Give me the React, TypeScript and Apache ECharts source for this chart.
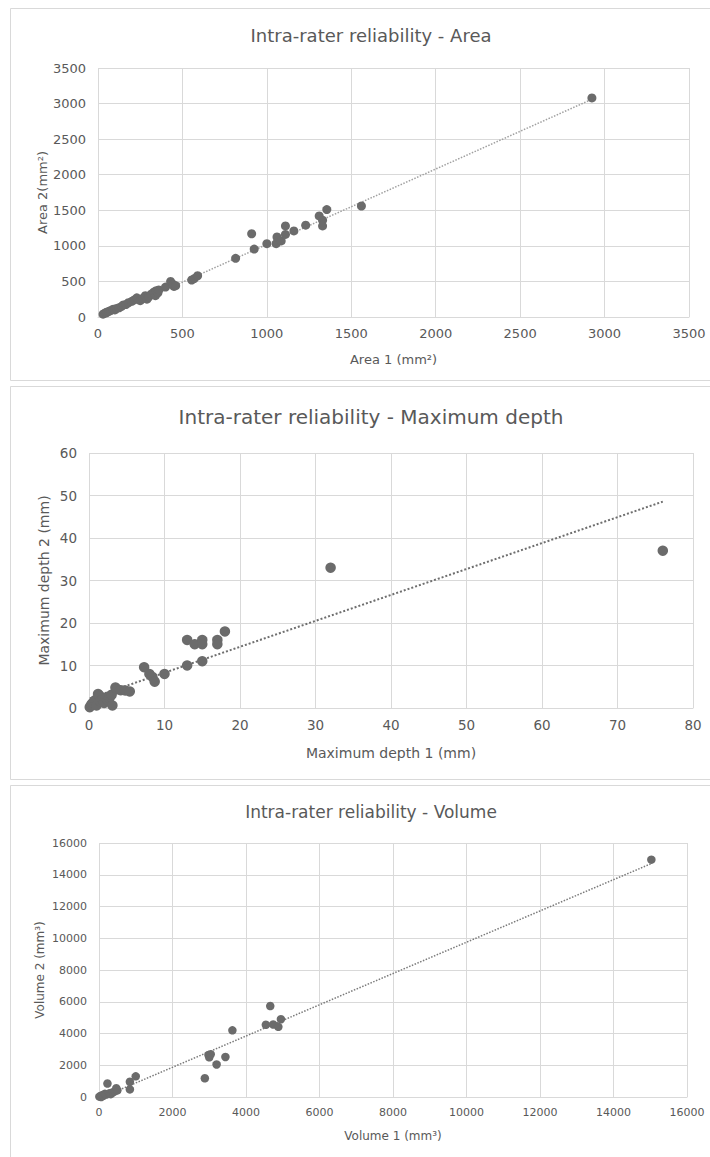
import React, { useEffect, useRef } from "react";
import * as echarts from "echarts";

// ---------- Data ----------
const areaPoints: [number, number][] = [
  [30, 40], [40, 55], [50, 60], [55, 72], [65, 80], [75, 90], [90, 110], [100, 100],
  [110, 120], [125, 130], [140, 150], [150, 170], [165, 175], [180, 200], [200, 220],
  [215, 240], [230, 270], [250, 230], [265, 260], [280, 300], [290, 250], [300, 280],
  [315, 320], [330, 350], [340, 300], [345, 370], [355, 340], [360, 380], [400, 420],
  [430, 500], [445, 460], [450, 430], [460, 440], [555, 520], [570, 540], [590, 580],
  [815, 825], [910, 1170], [925, 955], [1000, 1030], [1055, 1030], [1060, 1125],
  [1085, 1070], [1110, 1160], [1110, 1280], [1160, 1210], [1230, 1290], [1310, 1420],
  [1330, 1360], [1330, 1280], [1355, 1510], [1560, 1560], [2925, 3080],
];
const areaTrend = { slope: 1.06, intercept: -40, from: 40, to: 2925 };
const areaTicks = { min: 0, max: 3500, interval: 500 };

const depthPoints: [number, number][] = [
  [0.1, 0.2], [0.3, 0.8], [0.5, 1.2], [0.8, 1.8], [1.0, 0.6], [1.2, 3.3], [1.4, 2.9],
  [1.5, 1.5], [1.8, 2.0], [2.0, 1.2], [2.2, 2.4], [2.5, 1.8], [2.7, 2.3], [2.8, 2.8],
  [3.0, 3.1], [3.1, 0.6], [3.5, 4.8], [3.7, 4.4], [4.2, 4.2], [4.8, 4.1], [5.4, 3.9],
  [7.3, 9.6], [8.0, 8.0], [8.4, 7.3], [8.7, 6.2], [10, 8], [13, 16], [13, 10],
  [14, 15], [15, 16], [15, 15], [15, 11], [17, 16], [17, 15], [18, 18], [32, 33], [76, 37],
];
const depthTrend = { slope: 0.61, intercept: 2.2, from: 0.1, to: 76 };
const depthTicks = { min: 0, max: 80, interval: 10, ymax: 60 };

const volumePoints: [number, number][] = [
  [10, 20], [40, 60], [60, 0], [90, 120], [120, 80], [160, 200], [200, 150], [230, 850],
  [280, 230], [320, 180], [380, 300], [430, 350], [470, 550], [500, 420], [840, 960],
  [840, 480], [1000, 1300], [2880, 1180], [2980, 2650], [3000, 2500], [3040, 2700],
  [3200, 2050], [3440, 2520], [3630, 4200], [4540, 4550], [4660, 5730], [4740, 4570],
  [4880, 4420], [4950, 4900], [15030, 14950],
];
const volumeTrend = { slope: 0.985, intercept: -100, from: 100, to: 15030 };
const volumeTicks = { min: 0, max: 16000, interval: 2000 };

const titles = [
  "Intra-rater reliability - Area",
  "Intra-rater reliability - Maximum depth",
  "Intra-rater reliability - Volume",
];
const xNames = ["Area 1 (mm²)", "Maximum depth 1 (mm)", "Volume 1 (mm³)"];
const yNames = ["Area 2(mm²)", "Maximum depth 2 (mm)", "Volume 2 (mm³)"];

// ---------- Styling ----------
const FONT = "DejaVu Sans";
const TEXT = "#595959";
const GRIDC = "#d9d9d9";
const DOT = "#6b6b6b";

const trendData = (t: { slope: number; intercept: number; from: number; to: number }) => [
  [t.from, t.slope * t.from + t.intercept],
  [t.to, t.slope * t.to + t.intercept],
];

function axis(gridIndex: number, min: number, max: number, interval: number, fs: number, name: string, nameFs: number, nameGap: number, isY: boolean) {
  return {
    type: "value",
    gridIndex,
    min,
    max,
    interval,
    name,
    nameLocation: "middle",
    nameGap,
    nameMoveOverlap: false,
    nameRotate: isY ? 90 : 0,
    nameTextStyle: { fontFamily: FONT, fontSize: nameFs, color: TEXT },
    axisLine: { show: !isY, lineStyle: { color: GRIDC, width: 1 } },
    axisTick: { show: false },
    axisLabel: { fontFamily: FONT, fontSize: fs, color: TEXT, margin: isY ? 12 : 10, formatter: (v: number) => String(v) },
    splitLine: { show: true, lineStyle: { color: GRIDC, width: 1 } },
  };
}

export default function App() {
  const ref = useRef<HTMLDivElement>(null);
  useEffect(() => {
    if (!ref.current) return;
    const chart = echarts.init(ref.current, null, { renderer: "svg" });
    const option: any = {
      animation: false,
      backgroundColor: "#ffffff",
      title: [
        { text: titles[0], left: 366, top: 21, textAlign: "center", textStyle: { fontFamily: FONT, fontSize: 18, fontWeight: "normal", color: TEXT } },
        { text: titles[1], left: 366, top: 402, textAlign: "center", textStyle: { fontFamily: FONT, fontSize: 20, fontWeight: "normal", color: TEXT } },
        { text: titles[2], left: 366, top: 798, textAlign: "center", textStyle: { fontFamily: FONT, fontSize: 17, fontWeight: "normal", color: TEXT } },
      ],
      grid: [
        { left: 98, top: 68, width: 591, height: 249 },
        { left: 89, top: 453, width: 604, height: 255 },
        { left: 99, top: 843, width: 588, height: 254 },
      ],
      xAxis: [
        axis(0, areaTicks.min, areaTicks.max, areaTicks.interval, 13, xNames[0], 13, 36, false),
        axis(1, depthTicks.min, depthTicks.max, depthTicks.interval, 13.5, xNames[1], 14, 38, false),
        axis(2, volumeTicks.min, volumeTicks.max, volumeTicks.interval, 11, xNames[2], 12, 33, false),
      ],
      yAxis: [
        axis(0, areaTicks.min, areaTicks.max, areaTicks.interval, 13, yNames[0], 13, 49, true),
        axis(1, depthTicks.min, depthTicks.ymax, depthTicks.interval, 13.5, yNames[1], 14, 38, true),
        axis(2, volumeTicks.min, volumeTicks.max, volumeTicks.interval, 11, yNames[2], 12, 53, true),
      ],
      series: [
        { type: "line", xAxisIndex: 0, yAxisIndex: 0, data: trendData(areaTrend), symbol: "none", z: 1, lineStyle: { color: "#a0a0a0", width: 1.5, type: [1.5, 1.5] } },
        { type: "scatter", xAxisIndex: 0, yAxisIndex: 0, data: areaPoints, symbolSize: 9, z: 2, itemStyle: { color: DOT, opacity: 1 } },
        { type: "line", xAxisIndex: 1, yAxisIndex: 1, data: trendData(depthTrend), symbol: "none", z: 1, lineStyle: { color: "#6e6e6e", width: 2, type: [2, 2] } },
        { type: "scatter", xAxisIndex: 1, yAxisIndex: 1, data: depthPoints, symbolSize: 10.5, z: 2, itemStyle: { color: DOT, opacity: 1 } },
        { type: "line", xAxisIndex: 2, yAxisIndex: 2, data: trendData(volumeTrend), symbol: "none", z: 1, lineStyle: { color: "#7a7a7a", width: 1.5, type: [1.5, 1.5] } },
        { type: "scatter", xAxisIndex: 2, yAxisIndex: 2, data: volumePoints, symbolSize: 8.5, z: 2, itemStyle: { color: DOT, opacity: 1 } },
      ],
      graphic: [
        { type: "rect", shape: { x: 10.5, y: 8.5, width: 705, height: 372 }, style: { fill: "none", stroke: GRIDC, lineWidth: 1 }, silent: true },
        { type: "rect", shape: { x: 10.5, y: 386.5, width: 705, height: 393 }, style: { fill: "none", stroke: GRIDC, lineWidth: 1 }, silent: true },
        { type: "rect", shape: { x: 10.5, y: 785.5, width: 705, height: 380 }, style: { fill: "none", stroke: GRIDC, lineWidth: 1 }, silent: true },
      ],
    };
    chart.setOption(option);
    return () => chart.dispose();
  }, []);
  return <div ref={ref} style={{ position: "absolute", left: 0, top: 0, width: 710, height: 1157 }} />;
}
